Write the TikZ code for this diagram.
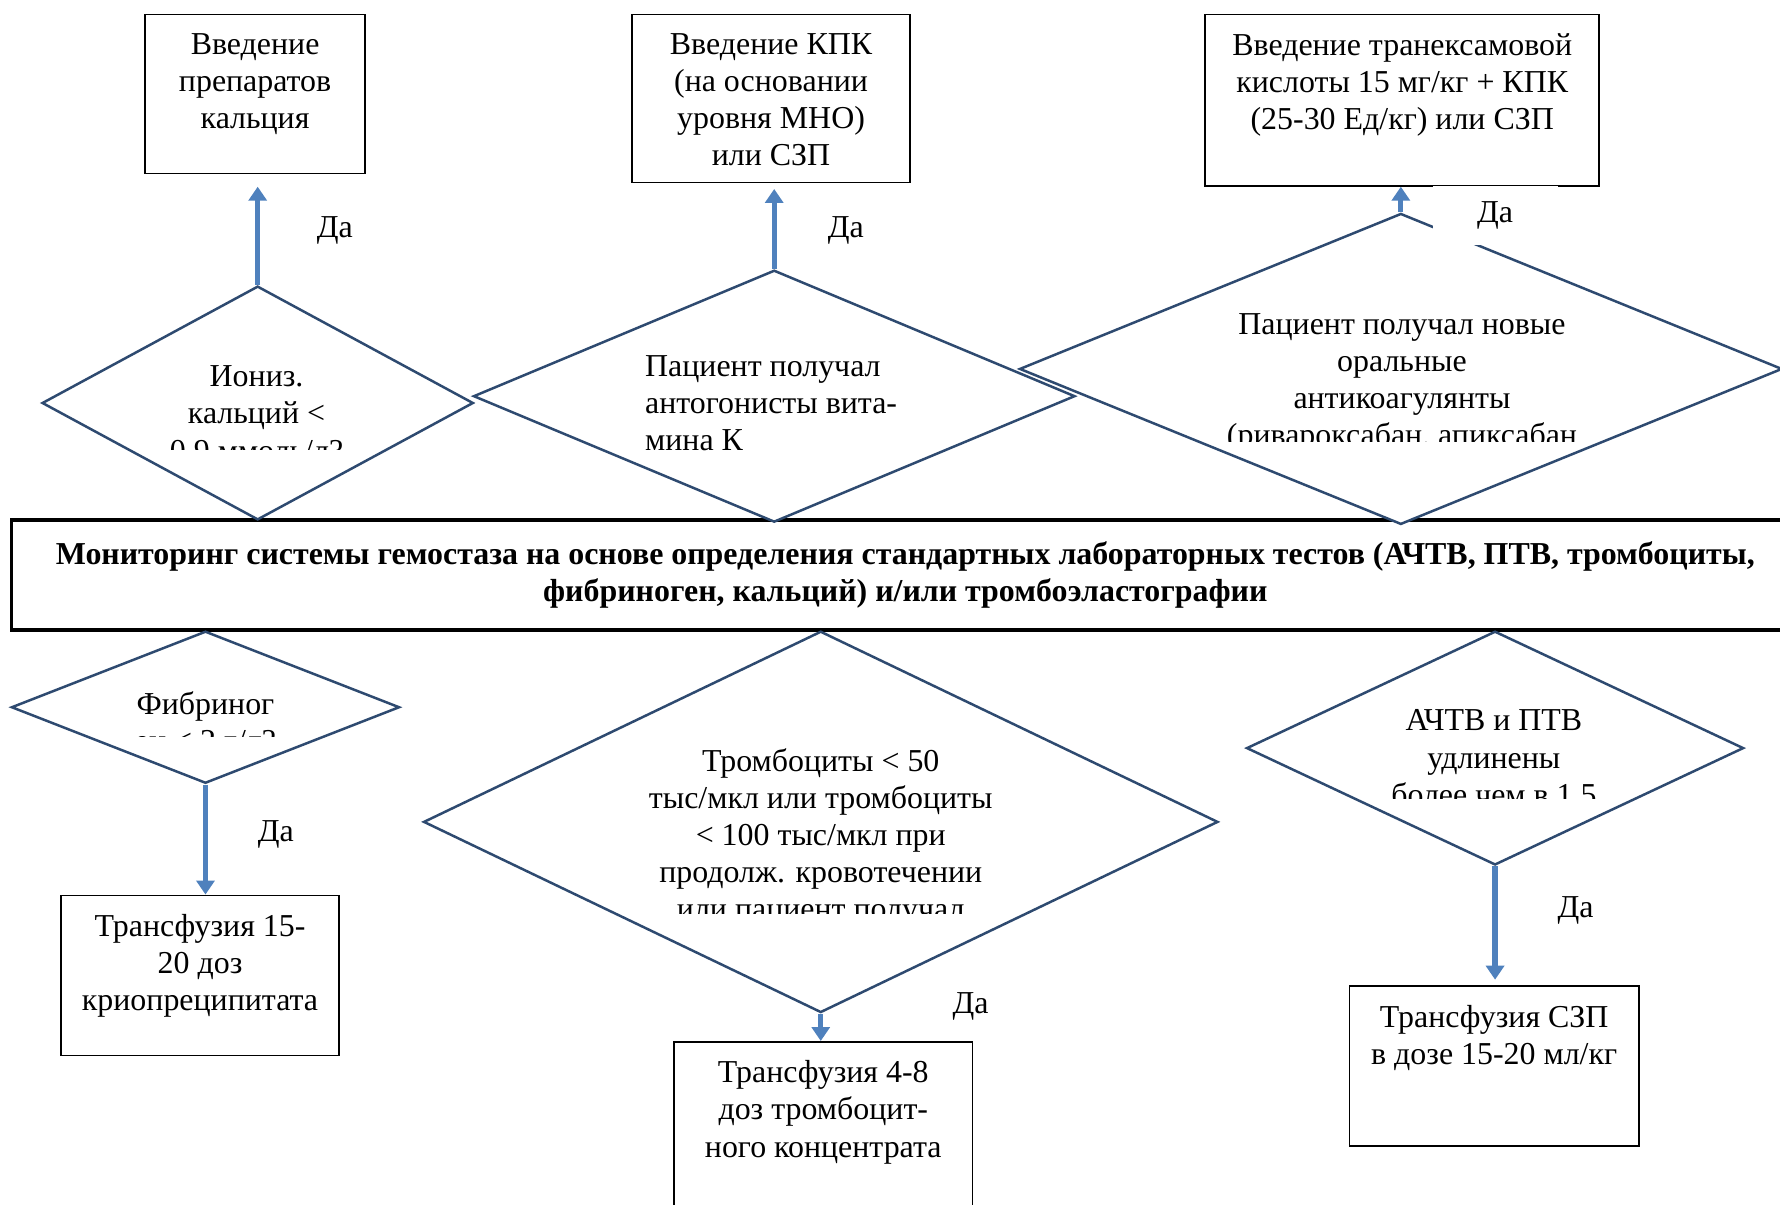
\documentclass[tikz,border=0pt]{standalone}
\usepackage{fontspec}
\setmainfont{Liberation Serif}
\usetikzlibrary{
  shapes.geometric,
  arrows.meta
}
\definecolor{dianavy}{HTML}{2E4A70}
\definecolor{yesblue}{HTML}{4F81BD}

\begin{document}
\begin{tikzpicture}[x=0.02cm,y=-0.02cm]
  \tikzset{
    txt/.style = {font=\fontsize{16}{18.6}\selectfont, align=center, inner sep=0pt},
    actbox/.style = {draw, line width=0.85pt, fill=white, inner sep=0pt, anchor=north west},
    boxtxt/.style = {txt, anchor=north, yshift=-0.34cm},
    testdia/.style = {diamond, draw=dianavy, line width=1.25pt, fill=white, inner sep=0pt},
    diatxt/.style = {txt, anchor=north},
    yesarrow/.style = {draw=yesblue, line width=2.6pt, -{Triangle[width=9pt,length=7pt]}},
    yeslabel/.style = {txt},
  }
  \clip (0,0) rectangle (1568,1061);

  % action boxes, top row
  \node[actbox, minimum width=3.88cm, minimum height=2.8cm] (kal) at (127,12) {};
  \node[actbox, minimum width=4.9cm, minimum height=2.96cm] (kpk) at (556,12) {};
  \node[actbox, minimum width=6.94cm, minimum height=3.02cm] (trx) at (1061,12) {};
  \node[boxtxt] (kaltext) at (kal.north) {Введение\\препаратов\\кальция};
  \node[boxtxt] (kpktext) at (kpk.north) {Введение КПК\\(на основании\\уровня МНО)\\или СЗП};
  \node[boxtxt] (trxtext) at (trx.north) {Введение транексамовой\\кислоты 15 мг/кг + КПК\\(25-30 Ед/кг) или СЗП};

  % action boxes, bottom row
  \node[actbox, minimum width=4.9cm, minimum height=2.82cm] (krio) at (53,788) {};
  \node[actbox, minimum width=5.26cm, minimum height=3.2cm] (trom) at (593,917) {};
  \node[actbox, minimum width=5.1cm, minimum height=2.82cm] (szp) at (1188,868) {};
  \node[boxtxt] (kriotext) at (krio.north) {Трансфузия 15-\\20 доз\\криопреципитата};
  \node[boxtxt] (tromtext) at (trom.north) {Трансфузия 4-8\\доз тромбоцит-\\ного концентрата};
  \node[boxtxt] (szptext) at (szp.north) {Трансфузия СЗП\\в дозе 15-20 мл/кг};

  % monitoring bar
  \node[draw, line width=1.6pt, fill=white, txt, font=\fontsize{16}{18.6}\selectfont\bfseries,
    minimum width=31.5cm, minimum height=1.94cm] (mon) at (797.5,506.5)
    {Мониторинг системы гемостаза на основе определения стандартных лабораторных тестов (АЧТВ, ПТВ, тромбоциты,\\фибриноген, кальций) и/или тромбоэластографии};

  % decisions
  \node[testdia, minimum width=7.6cm, minimum height=4.12cm] (ca) at (227,355) {};
  \node[testdia, minimum width=10.6cm, minimum height=4.44cm] (vka) at (682,349) {};
  \node[testdia, minimum width=13.44cm, minimum height=5.48cm] (noak) at (1234,325) {};
  \node[testdia, minimum width=6.84cm, minimum height=2.68cm] (fib) at (181,623) {};
  \node[testdia, minimum width=14cm, minimum height=6.72cm] (plt) at (723,724) {};
  \node[testdia, minimum width=8.76cm, minimum height=4.12cm] (aptt) at (1317,659) {};

  % decision texts, cut off by their text frames
  \begin{scope}
    \clip (140,300) rectangle (320,396);
    \node[diatxt] (catext) at (226,322) {Иониз.\\кальций <\\0,9 ммоль/л?};
  \end{scope}
  \node[diatxt, anchor=north west, align=left] (vkatext) at (568,313)
    {Пациент получал\\антогонисты вита-\\мина К};
  \begin{scope}
    \clip (1050,250) rectangle (1420,389);
    \node[diatxt] (noaktext) at (1235,276)
      {Пациент получал новые\\оральные\\антикоагулянты\\(ривароксабан, апиксабан};
  \end{scope}
  \begin{scope}
    \clip (100,590) rectangle (260,649);
    \node[diatxt] (fibtext) at (181,609) {Фибриног\\ен < 2 г/л?};
  \end{scope}
  \begin{scope}
    \clip (540,640) rectangle (905,805);
    \node[diatxt] (plttext) at (723,659)
      {Тромбоциты < 50\\тыс/мкл или тромбоциты\\< 100 тыс/мкл при\\продолж. кровотечении\\или пациент получал};
  \end{scope}
  \begin{scope}
    \clip (1190,600) rectangle (1440,703);
    \node[diatxt] (aptttext) at (1316,625) {АЧТВ и ПТВ\\удлинены\\более чем в 1,5};
  \end{scope}

  % yes branches
  \draw[yesarrow, shorten >=0.22cm] (ca.north) -- (ca.north |- kal.south);
  \draw[yesarrow, shorten >=0.1cm] (vka.north) -- (vka.north |- kpk.south);
  \draw[yesarrow] (noak.north) -- (noak.north |- trx.south);
  \draw[yesarrow] (fib.south) -- (fib.south |- krio.north);
  \draw[yesarrow] (plt.south) -- (plt.south |- trom.north);
  \draw[yesarrow, shorten >=0.1cm] (aptt.south) -- (aptt.south |- szp.north);

  \foreach \n/\x/\y in {1/295/203, 2/745/203, 4/243/735, 5/855/887, 6/1388/802}
    \node[yeslabel] (yes\n) at (\x,\y) {Да};
  % this one sits on a white frame over the diamond
  \node[yeslabel, fill=white, minimum width=2.2cm, minimum height=1.04cm] (yes3) at (1317,190) {Да};
\end{tikzpicture}
\end{document}
